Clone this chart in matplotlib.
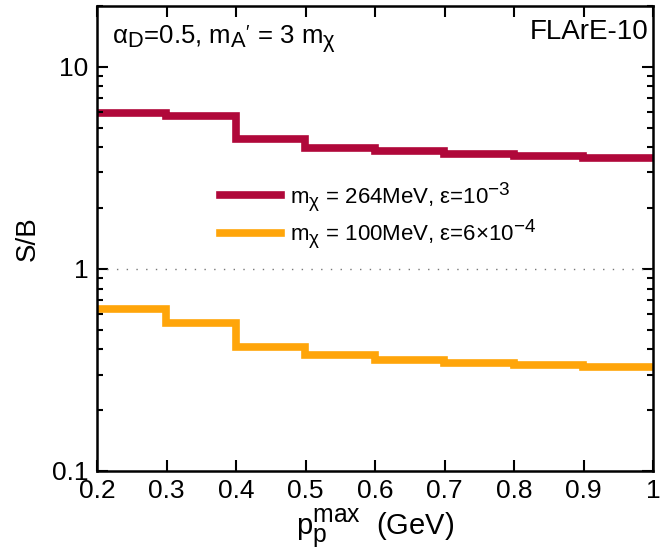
import matplotlib.pyplot as plt
import matplotlib._mathtext as mtext
import numpy as np
from matplotlib.ticker import FixedLocator, LogLocator, NullFormatter

plt.rcParams['font.family'] = ['Liberation Sans', 'DejaVu Sans']
plt.rcParams['mathtext.fontset'] = 'custom'
plt.rcParams['mathtext.rm'] = 'Liberation Sans'
plt.rcParams['mathtext.it'] = 'Liberation Sans'
# sub/superscripts in the reference are only a bit smaller than the text
mtext.SHRINK_FACTOR = 0.85

# bin edges in p_p^max (GeV)
edges = [0.2, 0.3, 0.4, 0.5, 0.6, 0.7, 0.8, 0.9, 1.0]
# S/B per bin
sb_264 = [5.92, 5.74, 4.40, 3.95, 3.84, 3.71, 3.62, 3.55]
sb_100 = [0.63, 0.542, 0.411, 0.374, 0.353, 0.342, 0.334, 0.327]

label_264 = r'm$_\chi$ = 264MeV, ε=10$^{-3}$'
label_100 = r'm$_\chi$ = 100MeV, ε=6×10$^{-4}$'

red = '#b0083a'
orange = '#ffa50a'

W, H = 660, 551
fig = plt.figure(figsize=(W / 100, H / 100), dpi=100)
ax = fig.add_axes([97 / W, 80 / H, 556 / W, 465 / H])

ax.stairs(sb_264, edges, color=red, lw=5.5, baseline=None, label=label_264)
ax.stairs(sb_100, edges, color=orange, lw=5.5, baseline=None, label=label_100)
ax.axhline(1.0, color='#777777', lw=1.0, ls=(0, (1, 6)))

ax.set_yscale('log')
ax.set_xlim(0.2, 1.0)
ax.set_ylim(0.1, 20)
ax.set_xticks(np.arange(0.2, 1.01, 0.1))
ax.set_xticklabels(['0.2', '0.3', '0.4', '0.5', '0.6', '0.7', '0.8', '0.9', '1'])
ax.yaxis.set_major_locator(FixedLocator([0.1, 1, 10]))
ax.set_yticklabels(['0.1', '1', '10'])
ax.yaxis.set_minor_locator(LogLocator(base=10, subs=np.arange(2, 10)))
ax.yaxis.set_minor_formatter(NullFormatter())

ax.tick_params(which='both', direction='in', top=True, right=True, labelsize=19, width=1.5)
ax.tick_params(which='major', length=8, pad=6)
ax.tick_params(which='minor', length=4)
for s in ax.spines.values():
    s.set_linewidth(1.8)

ax.set_ylabel('S/B', fontsize=20, labelpad=8)
ax.set_xlabel(r'p$_\mathregular{p}^\mathregular{max}$  (GeV)', fontsize=21, labelpad=3)

ax.text(15 / 556, 1 - 38 / 465, r"α$_\mathregular{D}$=0.5, m$_\mathregular{A'}$ = 3 m$_\chi$",
        transform=ax.transAxes, fontsize=18.5, ha='left', va='baseline')
ax.text(1 - 5 / 556, 1 - 33 / 465, 'FLArE-10', transform=ax.transAxes, fontsize=20,
        ha='right', va='baseline')

ax.legend(loc='upper left', bbox_to_anchor=(220 / W, 1 - 180 / H), bbox_transform=fig.transFigure,
          frameon=False, fontsize=16, handlelength=2.75, labelspacing=0.2, handletextpad=0.4,
          borderpad=0, borderaxespad=0)

fig.savefig('out.png', dpi=100)
